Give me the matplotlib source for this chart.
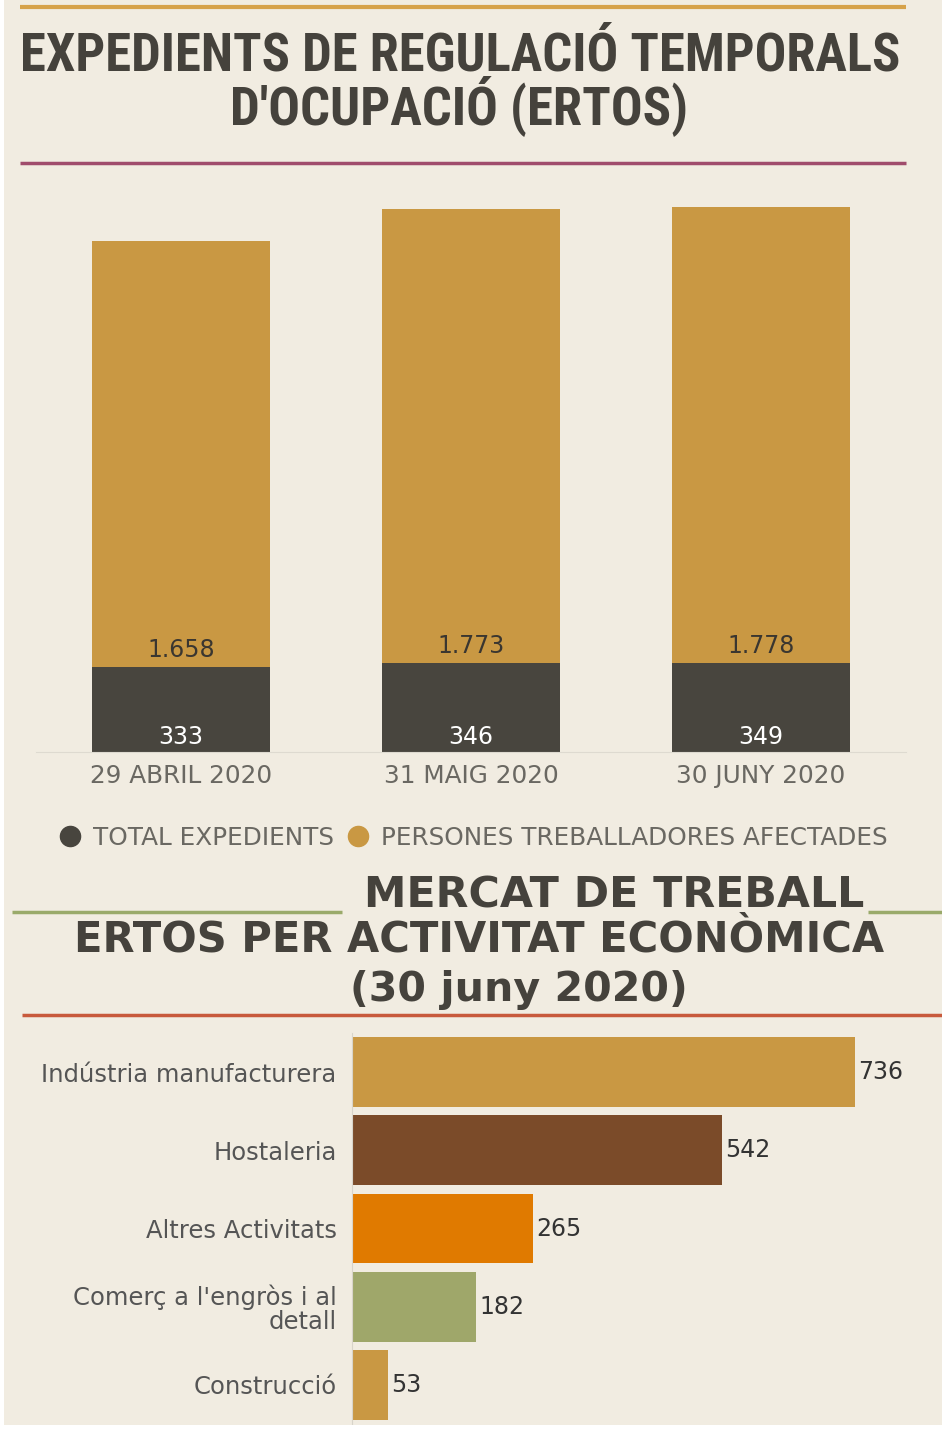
import matplotlib
matplotlib.use("Agg")
import matplotlib.pyplot as plt
from matplotlib import font_manager as fm
from matplotlib.lines import Line2D
from matplotlib.patches import Rectangle
import numpy as np

# data
dates = ['29 ABRIL 2020', '31 MAIG 2020', '30 JUNY 2020']
expedients = [333, 346, 349]
persones = [1658, 1773, 1778]
legend_labels = ['TOTAL EXPEDIENTS', 'PERSONES TREBALLADORES AFECTADES']

sectors = ['Indústria manufacturera', 'Hostaleria', 'Altres Activitats',
           "Comerç a l'engròs i al\ndetall", 'Construcció']
ertos = [736, 542, 265, 182, 53]

BG = '#f1ece1'
DARK = '#48453e'
GOLD = '#c99843'
TXT = '#45423c'
GRAY = '#6a6862'
sector_colors = ['#c99843', '#7b4b29', '#e07a00', '#9fa76a', '#c99843']

# look for a narrow face for the headline, else fall back on Roboto
narrow_fam, narrow_stretch = 'Roboto', 'normal'
fonts = fm.fontManager.ttflist
for pref in ['Roboto Condensed', 'Liberation Sans Narrow', 'DejaVu Sans', 'Open Sans Condensed',
             'Noto Sans', 'Open Sans', 'Noto Sans Condensed']:
    hit = [f for f in fonts if f.name == pref and
           (f.stretch in ('condensed', 'semi-condensed', 'extra-condensed')
            or 'Narrow' in f.name or 'Condensed' in f.name)]
    if hit:
        narrow_fam, narrow_stretch = pref, hit[0].stretch
        break

W, H = 942, 1434
fig = plt.figure(figsize=(W / 100, H / 100), dpi=100, facecolor=BG)
renderer = fig.canvas.get_renderer()

def fx(px):
    return px / W

def fy(py):
    return 1 - py / H

def hline(x0, x1, y, color, lw):
    fig.add_artist(Line2D([fx(x0), fx(x1)], [fy(y), fy(y)], color=color,
                          lw=lw, solid_capstyle='butt'))

def fit_text(xc, yc, s, width_px, max_size, **kw):
    t = fig.text(fx(xc), fy(yc), s, ha='center', va='center', fontsize=20, **kw)
    w = t.get_window_extent(renderer).width
    t.set_fontsize(min(max_size, 20 * width_px / w))
    return t

# white margins of the screenshot
fig.add_artist(Rectangle((0, 0), fx(4), 1, color='white', lw=0))
fig.add_artist(Rectangle((0, 0), 1, 1 - 1425 / H, color='white', lw=0))

# --- top block ---
hline(20, 906, 7, '#d6a24a', 3)
fit_text(460, 56, 'EXPEDIENTS DE REGULACIÓ TEMPORALS', 880, 40, fontweight='bold',
         color=TXT, family=narrow_fam, fontstretch=narrow_stretch)
fit_text(459, 106, "D'OCUPACIÓ (ERTOS)", 458, 40, fontweight='bold',
         color=TXT, family=narrow_fam, fontstretch=narrow_stretch)
hline(20, 906, 163, '#a04c6c', 2.5)

ax1 = fig.add_axes([fx(36), fy(752), fx(906) - fx(36), (752 - 180) / H])
ax1.set_facecolor(BG)
x = np.arange(len(dates))
ax1.bar(x, expedients, width=0.614, color=DARK)
ax1.bar(x, persones, bottom=expedients, width=0.614, color=GOLD)
ax1.set_xlim(-0.5, 2.5)
ax1.set_ylim(0, 572 * 3.9)
for i in range(len(dates)):
    ax1.annotate(str(expedients[i]), (x[i], 0), xytext=(0, 15), textcoords='offset pixels',
                 ha='center', va='center', fontsize=17, color='white')
    ax1.annotate(f"{persones[i]:,}".replace(',', '.'), (x[i], expedients[i]), xytext=(0, 17),
                 textcoords='offset pixels', ha='center', va='center', fontsize=17, color='#3a3630')
ax1.set_xticks(x, dates)
ax1.tick_params(axis='x', length=0, pad=8.5, labelsize=17.8, labelcolor=GRAY)
ax1.set_yticks([])
for s in ['top', 'left', 'right']:
    ax1.spines[s].set_visible(False)
ax1.spines['bottom'].set_color('#dedad0')

handles = [Line2D([], [], marker='o', ls='', color=DARK, markersize=14.5),
           Line2D([], [], marker='o', ls='', color=GOLD, markersize=14.5)]
fig.legend(handles, legend_labels, loc='center', bbox_to_anchor=(fx(472), fy(838)), ncol=2,
           frameon=False, fontsize=17.8, handletextpad=0.35, columnspacing=0.45,
           labelcolor=GRAY, handlelength=1.1)

# --- bottom block ---
hline(12, 342, 912, '#9aaa6a', 2.5)
hline(868, 942, 912, '#9aaa6a', 2.5)
fit_text(614, 895, 'MERCAT DE TREBALL', 500, 31, fontweight='bold', color=TXT)
fit_text(479, 939, 'ERTOS PER ACTIVITAT ECONÒMICA', 806, 31, fontweight='bold', color=TXT)
fit_text(519, 990, '(30 juny 2020)', 338, 31, fontweight='bold', color=TXT)
hline(22, 942, 1015, '#c85a3c', 2.5)

ax2 = fig.add_axes([fx(352), fy(1424), fx(942) - fx(352), (1424 - 1033) / H])
ax2.set_facecolor(BG)
y = np.arange(len(sectors))
ax2.barh(y, ertos, height=0.894, color=sector_colors)
ax2.set_ylim(4.5, -0.5)
ax2.set_xlim(0, 590 / 0.683)
for i, v in enumerate(ertos):
    ax2.annotate(str(v), (v, y[i]), xytext=(3, 0), textcoords='offset pixels',
                 ha='left', va='center', fontsize=17, color='#333333')
ax2.set_yticks(y, sectors)
ax2.tick_params(axis='y', length=0, pad=11, labelsize=17.5, labelcolor='#555555')
for lbl in ax2.get_yticklabels():
    lbl.set_linespacing(1.0)
ax2.set_xticks([])
for s in ['top', 'bottom', 'right']:
    ax2.spines[s].set_visible(False)
ax2.spines['left'].set_color('#d8d4ca')

fig.savefig('out.png', dpi=100, facecolor=BG)
